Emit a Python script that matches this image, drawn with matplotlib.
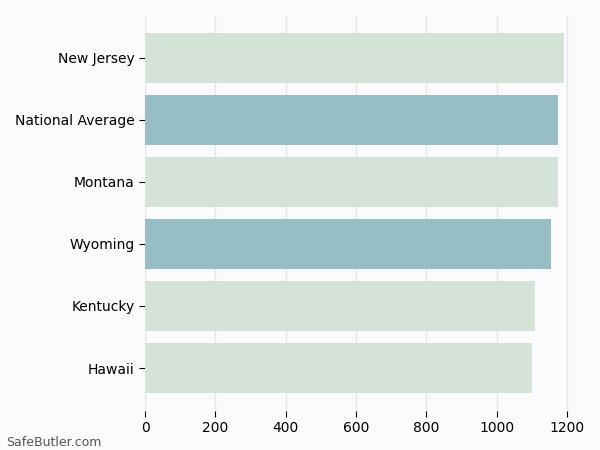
import matplotlib
matplotlib.use("Agg")
import matplotlib.pyplot as plt

categories = ["New Jersey", "National Average", "Montana", "Wyoming", "Kentucky", "Hawaii"]
values = [1191, 1174, 1174, 1154, 1109, 1100]
highlight = [False, True, False, True, False, False]

bg = "#fbfbfd"
fig = plt.figure(figsize=(6, 4.5), dpi=100, facecolor=bg)
ax = fig.add_axes([0.2417, 0.087, 0.7333, 0.88], facecolor=bg)
ypos = list(range(len(categories)))[::-1]
colors = ["#97bdc5" if h else "#d4e2d8" for h in highlight]
ax.barh(ypos, values, height=0.8, color=colors, zorder=2)
ax.set_yticks(ypos)
ax.set_yticklabels(categories)
ax.set_xticks([0, 200, 400, 600, 800, 1000, 1200])
ax.grid(axis="x", color="#e6e6e6", linewidth=1, zorder=0)
for s in ax.spines.values():
    s.set_visible(False)
ax.tick_params(axis="both", labelsize=10, colors="black")
ax.tick_params(axis="y", length=4)
ax.tick_params(axis="x", length=4)
fig.text(0.01, 0.01, "SafeButler.com", fontsize=9, color="#555555")
fig.savefig("out.png", dpi=100, facecolor=bg)
